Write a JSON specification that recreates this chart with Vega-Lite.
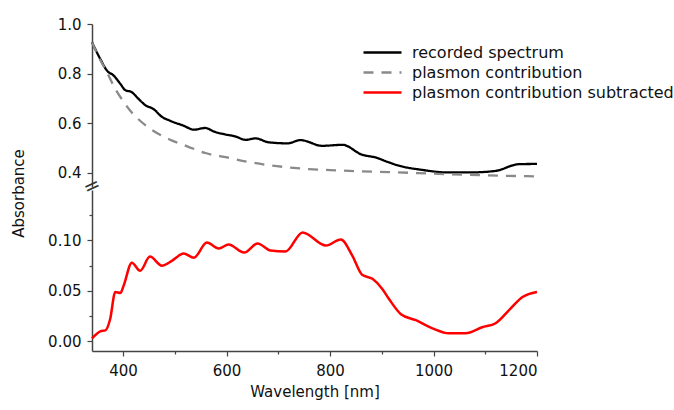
{
  "$schema": "https://vega.github.io/schema/vega-lite/v6.json",
  "background": "white",
  "padding": {"left": 11, "top": 17, "right": 2, "bottom": 4},
  "bounds": "flush",
  "spacing": 3,
  "config": {
    "font": "DejaVu Sans",
    "view": {"stroke": null},
    "axis": {
      "grid": false,
      "domainColor": "#444444",
      "domainWidth": 1.5,
      "tickColor": "#444444",
      "tickWidth": 1.2,
      "labelFont": "DejaVu Sans",
      "labelFontSize": 15,
      "labelColor": "#111111",
      "titleFont": "DejaVu Sans",
      "titleFontSize": 15,
      "titleFontWeight": "normal",
      "titleColor": "#111111"
    },
    "legend": {
      "orient": "none",
      "legendX": 279,
      "legendY": 17,
      "title": null,
      "labelFont": "DejaVu Sans",
      "labelFontSize": 16,
      "labelColor": "#111111",
      "labelLimit": 0,
      "symbolType": "M-1.9,0H1.9",
      "symbolSize": 400,
      "symbolStrokeWidth": 2.5,
      "labelOffset": 18,
      "rowPadding": -0.5,
      "padding": 0
    }
  },
  "datasets": {
    "top": [
      {"series": "recorded spectrum", "wavelength": 340, "absorbance": 0.926},
      {"series": "recorded spectrum", "wavelength": 356, "absorbance": 0.859},
      {"series": "recorded spectrum", "wavelength": 369, "absorbance": 0.812},
      {"series": "recorded spectrum", "wavelength": 382, "absorbance": 0.792},
      {"series": "recorded spectrum", "wavelength": 395, "absorbance": 0.758},
      {"series": "recorded spectrum", "wavelength": 404, "absorbance": 0.734},
      {"series": "recorded spectrum", "wavelength": 417, "absorbance": 0.725},
      {"series": "recorded spectrum", "wavelength": 430, "absorbance": 0.698},
      {"series": "recorded spectrum", "wavelength": 443, "absorbance": 0.673},
      {"series": "recorded spectrum", "wavelength": 459, "absorbance": 0.657},
      {"series": "recorded spectrum", "wavelength": 475, "absorbance": 0.626},
      {"series": "recorded spectrum", "wavelength": 491, "absorbance": 0.610},
      {"series": "recorded spectrum", "wavelength": 517, "absorbance": 0.590},
      {"series": "recorded spectrum", "wavelength": 537, "absorbance": 0.574},
      {"series": "recorded spectrum", "wavelength": 559, "absorbance": 0.581},
      {"series": "recorded spectrum", "wavelength": 575, "absorbance": 0.567},
      {"series": "recorded spectrum", "wavelength": 595, "absorbance": 0.556},
      {"series": "recorded spectrum", "wavelength": 617, "absorbance": 0.547},
      {"series": "recorded spectrum", "wavelength": 637, "absorbance": 0.533},
      {"series": "recorded spectrum", "wavelength": 656, "absorbance": 0.539},
      {"series": "recorded spectrum", "wavelength": 682, "absorbance": 0.523},
      {"series": "recorded spectrum", "wavelength": 718, "absorbance": 0.519},
      {"series": "recorded spectrum", "wavelength": 743, "absorbance": 0.532},
      {"series": "recorded spectrum", "wavelength": 785, "absorbance": 0.509},
      {"series": "recorded spectrum", "wavelength": 824, "absorbance": 0.513},
      {"series": "recorded spectrum", "wavelength": 862, "absorbance": 0.473},
      {"series": "recorded spectrum", "wavelength": 888, "absorbance": 0.462},
      {"series": "recorded spectrum", "wavelength": 914, "absorbance": 0.442},
      {"series": "recorded spectrum", "wavelength": 933, "absorbance": 0.429},
      {"series": "recorded spectrum", "wavelength": 978, "absorbance": 0.412},
      {"series": "recorded spectrum", "wavelength": 1024, "absorbance": 0.402},
      {"series": "recorded spectrum", "wavelength": 1075, "absorbance": 0.402},
      {"series": "recorded spectrum", "wavelength": 1120, "absorbance": 0.408},
      {"series": "recorded spectrum", "wavelength": 1165, "absorbance": 0.435},
      {"series": "recorded spectrum", "wavelength": 1200, "absorbance": 0.436},
      {"series": "plasmon contribution", "wavelength": 340, "absorbance": 0.926},
      {"series": "plasmon contribution", "wavelength": 356, "absorbance": 0.855},
      {"series": "plasmon contribution", "wavelength": 369, "absorbance": 0.805},
      {"series": "plasmon contribution", "wavelength": 385, "absorbance": 0.738},
      {"series": "plasmon contribution", "wavelength": 400, "absorbance": 0.690},
      {"series": "plasmon contribution", "wavelength": 414, "absorbance": 0.650},
      {"series": "plasmon contribution", "wavelength": 433, "absorbance": 0.610},
      {"series": "plasmon contribution", "wavelength": 453, "absorbance": 0.577},
      {"series": "plasmon contribution", "wavelength": 475, "absorbance": 0.550},
      {"series": "plasmon contribution", "wavelength": 495, "absorbance": 0.530},
      {"series": "plasmon contribution", "wavelength": 524, "absorbance": 0.507},
      {"series": "plasmon contribution", "wavelength": 559, "absorbance": 0.480},
      {"series": "plasmon contribution", "wavelength": 601, "absorbance": 0.462},
      {"series": "plasmon contribution", "wavelength": 640, "absorbance": 0.445},
      {"series": "plasmon contribution", "wavelength": 682, "absorbance": 0.431},
      {"series": "plasmon contribution", "wavelength": 720, "absorbance": 0.422},
      {"series": "plasmon contribution", "wavelength": 759, "absorbance": 0.415},
      {"series": "plasmon contribution", "wavelength": 800, "absorbance": 0.411},
      {"series": "plasmon contribution", "wavelength": 837, "absorbance": 0.408},
      {"series": "plasmon contribution", "wavelength": 914, "absorbance": 0.403},
      {"series": "plasmon contribution", "wavelength": 1024, "absorbance": 0.395},
      {"series": "plasmon contribution", "wavelength": 1100, "absorbance": 0.390},
      {"series": "plasmon contribution", "wavelength": 1200, "absorbance": 0.386}
    ],
    "bottom": [
      {"wavelength": 340, "absorbance": 0.003},
      {"wavelength": 356, "absorbance": 0.010},
      {"wavelength": 366, "absorbance": 0.011},
      {"wavelength": 375, "absorbance": 0.022},
      {"wavelength": 385, "absorbance": 0.049},
      {"wavelength": 395, "absorbance": 0.048},
      {"wavelength": 401, "absorbance": 0.055},
      {"wavelength": 417, "absorbance": 0.078},
      {"wavelength": 433, "absorbance": 0.070},
      {"wavelength": 452, "absorbance": 0.084},
      {"wavelength": 475, "absorbance": 0.075},
      {"wavelength": 495, "absorbance": 0.080},
      {"wavelength": 517, "absorbance": 0.087},
      {"wavelength": 537, "absorbance": 0.083},
      {"wavelength": 562, "absorbance": 0.098},
      {"wavelength": 585, "absorbance": 0.092},
      {"wavelength": 604, "absorbance": 0.096},
      {"wavelength": 634, "absorbance": 0.088},
      {"wavelength": 660, "absorbance": 0.097},
      {"wavelength": 685, "absorbance": 0.090},
      {"wavelength": 714, "absorbance": 0.089},
      {"wavelength": 747, "absorbance": 0.108},
      {"wavelength": 792, "absorbance": 0.095},
      {"wavelength": 821, "absorbance": 0.101},
      {"wavelength": 843, "absorbance": 0.085},
      {"wavelength": 862, "absorbance": 0.066},
      {"wavelength": 882, "absorbance": 0.062},
      {"wavelength": 901, "absorbance": 0.052},
      {"wavelength": 914, "absorbance": 0.042},
      {"wavelength": 937, "absorbance": 0.027},
      {"wavelength": 966, "absorbance": 0.021},
      {"wavelength": 998, "absorbance": 0.013},
      {"wavelength": 1030, "absorbance": 0.008},
      {"wavelength": 1062, "absorbance": 0.008},
      {"wavelength": 1094, "absorbance": 0.014},
      {"wavelength": 1120, "absorbance": 0.018},
      {"wavelength": 1146, "absorbance": 0.031},
      {"wavelength": 1172, "absorbance": 0.044},
      {"wavelength": 1200, "absorbance": 0.049}
    ]
  },
  "resolve": {
    "scale": {"color": "independent", "strokeDash": "independent"},
    "legend": {"color": "independent", "strokeDash": "independent"}
  },
  "vconcat": [
    {
      "width": 445,
      "height": 163,
      "layer": [
        {
          "data": {"name": "top"},
          "mark": {"type": "line", "strokeWidth": 2.3, "interpolate": "monotone"},
          "encoding": {
            "x": {
              "field": "wavelength",
              "type": "quantitative",
              "scale": {"domain": [340, 1200], "nice": false, "zero": false},
              "axis": null
            },
            "y": {
              "field": "absorbance",
              "type": "quantitative",
              "scale": {"domain": [0.343, 1.0], "nice": false, "zero": false},
              "axis": {
                "values": [0.4, 0.5, 0.6, 0.7, 0.8, 0.9, 1.0],
                "labelExpr": "round(datum.value*10) % 2 == 0 ? format(datum.value, '.1f') : ''",
                "tickSize": {"condition": {"test": "round(datum.value*10) % 2 == 0", "value": 5}, "value": 3},
                "labelPadding": 6,
                "title": "Absorbance",
                "titleAngle": 270,
                "titleX": -74,
                "titleY": 169,
                "titleAlign": "center",
                "titleBaseline": "middle"
              }
            },
            "color": {
              "field": "series",
              "type": "nominal",
              "sort": null,
              "scale": {
                "domain": ["recorded spectrum", "plasmon contribution", "plasmon contribution subtracted"],
                "range": ["#000000", "#8a8a8a", "#ff0000"]
              }
            },
            "strokeDash": {
              "field": "series",
              "type": "nominal",
              "sort": null,
              "scale": {
                "domain": ["recorded spectrum", "plasmon contribution", "plasmon contribution subtracted"],
                "range": [[1, 0], [10, 8], [1, 0]]
              }
            }
          }
        },
        {
          "data": {"values": [{"mark": "axis break"}]},
          "mark": {"type": "text", "text": "=", "fontSize": 20, "angle": -25, "color": "#333333", "font": "DejaVu Sans", "baseline": "middle", "align": "center"},
          "encoding": {
            "x": {"datum": 340, "type": "quantitative"},
            "y": {"datum": 0.345, "type": "quantitative"}
          }
        }
      ]
    },
    {
      "width": 445,
      "height": 161,
      "data": {"name": "bottom"},
      "mark": {"type": "line", "color": "#ff0000", "strokeWidth": 2.5, "interpolate": "monotone"},
      "encoding": {
        "x": {
          "field": "wavelength",
          "type": "quantitative",
          "scale": {"domain": [340, 1200], "nice": false, "zero": false},
          "axis": {
            "values": [400, 500, 600, 700, 800, 900, 1000, 1100, 1200],
            "format": "d",
            "labelExpr": "datum.value % 200 == 0 ? datum.label : ''",
            "tickSize": {"condition": {"test": "datum.value % 200 == 0", "value": 5}, "value": 3},
            "labelPadding": 7,
            "title": "Wavelength [nm]",
            "titlePadding": 6
          }
        },
        "y": {
          "field": "absorbance",
          "type": "quantitative",
          "scale": {"domain": [-0.0095, 0.15], "nice": false, "zero": false},
          "axis": {
            "values": [0, 0.025, 0.05, 0.075, 0.1, 0.125],
            "labelExpr": "round(datum.value*40) % 2 == 0 ? format(datum.value, '.2f') : ''",
            "tickSize": {"condition": {"test": "round(datum.value*40) % 2 == 0", "value": 5}, "value": 3},
            "labelPadding": 6,
            "title": null
          }
        }
      }
    }
  ]
}
